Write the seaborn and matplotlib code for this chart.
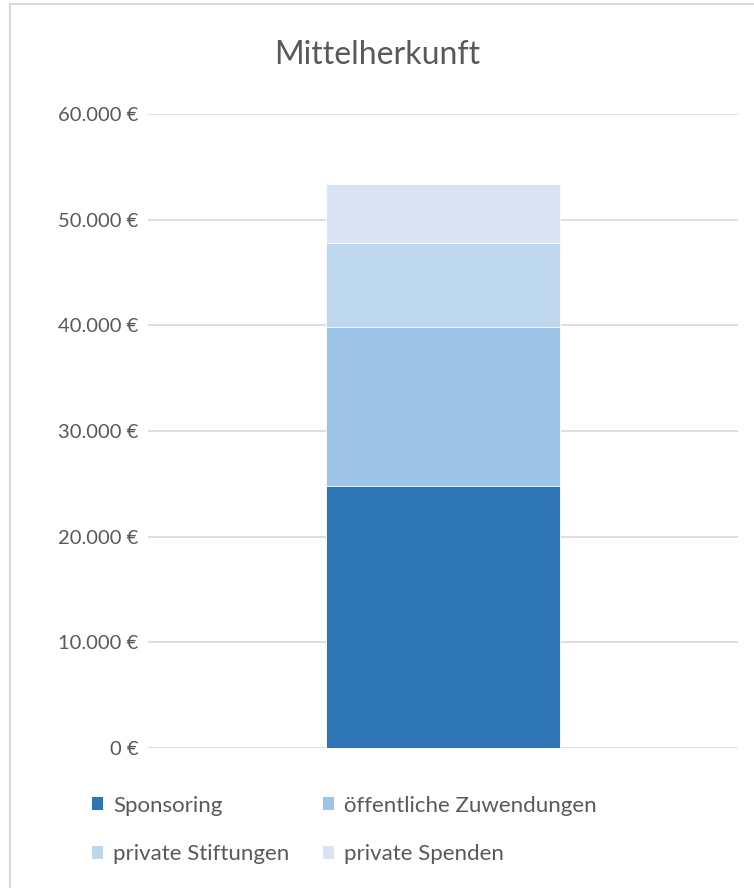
import matplotlib
matplotlib.use("Agg")
import matplotlib.pyplot as plt
import matplotlib.patches as mpatches
from matplotlib.ticker import FuncFormatter, MultipleLocator
import seaborn as sns
import pandas as pd
import numpy as np

# Data
categories = ["Sponsoring", "öffentliche Zuwendungen", "private Stiftungen", "private Spenden"]
values = [24800, 15000, 8000, 5600]
colors = ["#2E75B6", "#9DC3E6", "#BDD7EE", "#DAE3F3"]
title = "Mittelherkunft"

sns.set_theme(style="white")
plt.rcParams["font.family"] = ["Lato", "DejaVu Sans"]
text_color = "#595959"

fig = plt.figure(figsize=(7.54, 8.88), dpi=100)
ax = fig.add_axes([148/754, 1 - 748/888, 590/754, (748 - 114)/888])

cum = np.cumsum(values)
df = pd.DataFrame({"grp": ["Mittel"] * len(values), "cum": cum, "cat": categories})

# draw cumulative bars from tallest to shortest so that each segment shows
for i in range(len(values) - 1, -1, -1):
    sns.barplot(data=df.iloc[[i]], x="grp", y="cum", color=colors[i], width=0.398,
                edgecolor="white", linewidth=0.6, ax=ax, zorder=2 + (len(values) - i), saturation=1)

ax.set_ylim(0, 60000)
ax.set_xlim(-0.5, 0.5)
ax.yaxis.set_major_locator(MultipleLocator(10000))
ax.yaxis.set_major_formatter(FuncFormatter(lambda v, p: f"{v:,.0f}".replace(",", ".") + " €"))
ax.set_xticks([])
ax.set_xlabel("")
ax.set_ylabel("")
ax.grid(axis="y", color="#D9D9D9", linewidth=1.2, zorder=0)
ax.set_axisbelow(True)
for s in ax.spines.values():
    s.set_visible(False)
ax.tick_params(axis="y", length=0, pad=7, labelsize=14.5, labelcolor=text_color)

fig.text(0.5, 1 - 55/888, title, ha="center", va="center", fontsize=23, color=text_color)

# legend
handles = [mpatches.Patch(facecolor=c, edgecolor="none") for c in colors]
order = [0, 2, 1, 3]
leg = fig.legend([handles[i] for i in order], [categories[i] for i in order],
                 ncol=2, frameon=False, loc="center left",
                 bbox_to_anchor=(72/754, 1 - 830/888),
                 fontsize=16, handlelength=0.5, handleheight=0.5, handletextpad=0.45,
                 columnspacing=1.5, labelspacing=1.3, labelcolor=text_color)

# chart border
fig.patches.append(mpatches.Rectangle((10/754, -0.01), 1.0, 1 - 4/888 + 0.01,
                                      transform=fig.transFigure, fill=False,
                                      edgecolor="#D9D9D9", linewidth=1.5))

fig.savefig("out.png", dpi=100, facecolor="white")
